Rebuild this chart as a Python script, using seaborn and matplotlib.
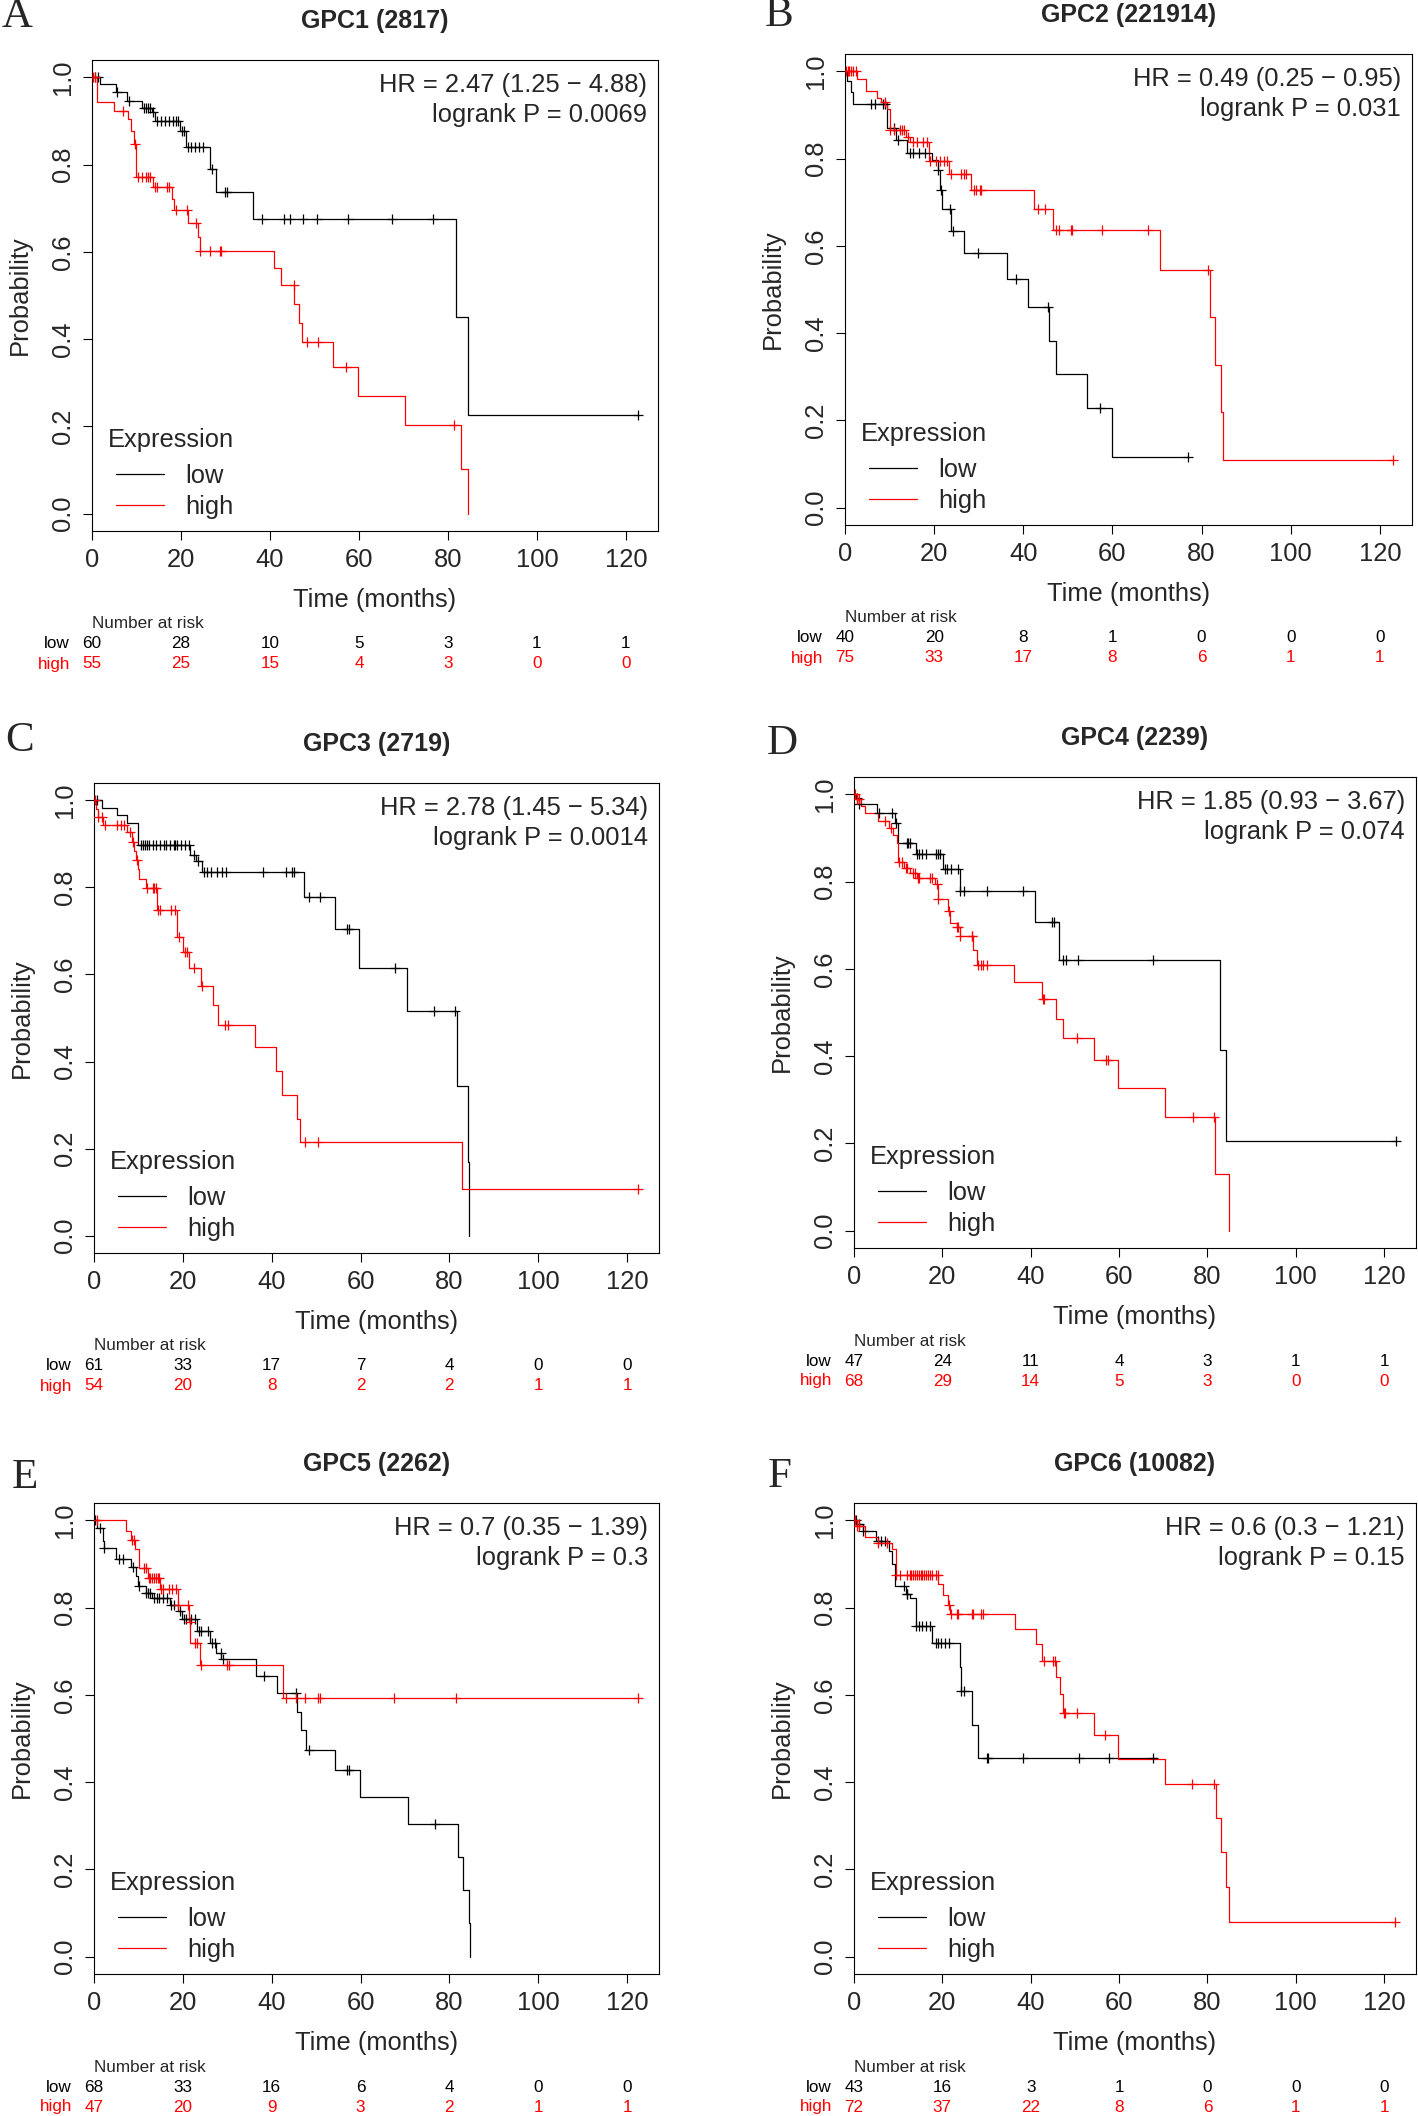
import numpy as np
import seaborn as sns
import matplotlib.pyplot as plt

sns.set_style("ticks")
plt.rcParams['font.family'] = ['Liberation Sans', 'DejaVu Sans']

#%% data (time in months, survival probability)
# A - GPC1
a_low_t = [0, 1.9, 5.3, 7.8, 11.3, 13.4, 14.2, 19.8, 21.1, 26.6, 27.9, 36.2, 81.9, 84.4, 122.6]
a_low_s = [1, 0.985, 0.966, 0.947, 0.931, 0.920, 0.901, 0.878, 0.840, 0.790, 0.737, 0.676, 0.450, 0.225, 0.225]
a_low_cens = [0.6, 1.4, 5.7, 8.3, 11.7, 12.1, 12.5, 13.0, 13.6, 14.7, 15.5, 16.4, 17.2, 18.1, 18.9, 19.4,
              20.2, 20.6, 21.5, 22.3, 23.2, 24.1, 24.9, 27.0, 30.0, 30.4, 38.1, 43.2, 44.5, 47.5, 50.5,
              57.6, 67.5, 76.7, 122.6]
a_high_t = [0, 1.2, 5.0, 8.1, 8.7, 9.4, 10.0, 13.8, 17.9, 18.5, 21.5, 23.9, 24.2, 40.9, 42.4, 45.5,
            46.5, 47.3, 54.1, 59.7, 70.4, 82.9, 84.6]
a_high_s = [1, 0.943, 0.924, 0.905, 0.878, 0.847, 0.771, 0.748, 0.721, 0.695, 0.666, 0.634, 0.603,
            0.563, 0.524, 0.481, 0.437, 0.393, 0.336, 0.269, 0.202, 0.102, 0.0]
a_high_cens = [0.2, 0.6, 7.0, 9.6, 10.4, 11.3, 12.1, 12.5, 13.0, 14.2, 14.7, 16.8, 17.2, 18.8, 21.3,
               23.4, 24.2, 26.6, 28.7, 29.0, 45.3, 48.4, 50.9, 57.1, 81.4]
a_risk_low = [60, 28, 10, 5, 3, 1, 1]
a_risk_high = [55, 25, 15, 4, 3, 0, 0]

# B - GPC2
b_low_t = [0, 0.4, 1.3, 1.7, 9.4, 11.5, 14.0, 19.6, 20.8, 21.3, 21.7, 23.8, 26.8, 36.3, 41.0, 45.7,
           47.4, 54.2, 59.8, 77.0]
b_low_s = [1, 0.977, 0.954, 0.926, 0.870, 0.843, 0.813, 0.797, 0.774, 0.729, 0.684, 0.635, 0.583,
           0.524, 0.459, 0.382, 0.306, 0.229, 0.115, 0.115]
b_low_cens = [5.8, 6.8, 8.5, 8.9, 11.1, 11.9, 14.5, 15.3, 16.6, 17.9, 20.9, 21.5, 23.6, 24.2, 29.9,
              38.3, 45.5, 57.1, 77.0]
b_high_t = [0, 2.6, 4.8, 7.2, 8.1, 9.4, 10.0, 13.6, 14.5, 18.9, 23.4, 28.3, 42.5, 46.6, 70.6, 81.9,
            83.1, 84.4, 84.9, 122.9]
b_high_s = [1, 0.982, 0.956, 0.939, 0.929, 0.914, 0.866, 0.850, 0.839, 0.794, 0.765, 0.729, 0.684,
            0.637, 0.545, 0.438, 0.327, 0.220, 0.108, 0.108]
b_high_cens = [0.2, 0.6, 1.0, 1.4, 1.9, 2.4, 8.9, 10.2, 11.1, 12.3, 12.8, 13.2, 14.1, 15.3, 16.2, 17.4,
               18.3, 19.1, 20.4, 21.3, 22.1, 22.9, 23.8, 26.0, 26.8, 27.2, 28.9, 29.5, 30.2, 30.6, 43.2,
               44.8, 47.4, 48.0, 50.6, 51.0, 57.7, 67.9, 81.5, 122.9]
b_risk_low = [40, 20, 8, 1, 0, 0, 0]
b_risk_high = [75, 33, 17, 8, 6, 1, 1]

# C - GPC3
c_low_t = [0, 1.9, 5.1, 7.4, 10.0, 21.7, 23.0, 24.3, 47.3, 54.2, 59.6, 70.4, 81.7, 84.3, 84.5]
c_low_s = [1, 0.982, 0.967, 0.949, 0.897, 0.874, 0.860, 0.836, 0.777, 0.704, 0.616, 0.515, 0.343, 0.170, 0.0]
c_low_cens = [0.7, 10.6, 11.1, 11.5, 11.9, 12.3, 13.2, 14.0, 14.9, 15.7, 16.2, 17.0, 17.9, 18.3, 18.7,
              19.6, 20.4, 21.3, 22.6, 23.4, 24.7, 25.5, 26.4, 27.7, 28.9, 29.8, 38.1, 43.2, 44.5, 45.0,
              48.3, 50.8, 57.0, 57.4, 67.7, 76.6, 81.3]
c_high_t = [0, 0.4, 0.9, 2.1, 7.5, 8.5, 8.9, 9.4, 9.8, 10.1, 11.7, 14.2, 18.7, 20.0, 21.3, 24.0, 26.8,
            27.9, 36.2, 41.0, 42.4, 45.8, 46.4, 82.8, 122.4]
c_high_s = [1, 0.981, 0.962, 0.943, 0.927, 0.904, 0.884, 0.862, 0.843, 0.820, 0.799, 0.748, 0.687,
            0.651, 0.616, 0.574, 0.530, 0.485, 0.433, 0.378, 0.324, 0.269, 0.216, 0.108, 0.108]
c_high_cens = [0.3, 1.0, 1.7, 2.4, 5.1, 6.0, 6.8, 8.1, 8.8, 9.6, 11.9, 13.2, 13.6, 14.0, 14.5, 14.9,
               17.4, 18.3, 19.1, 20.4, 21.0, 22.6, 24.3, 29.5, 30.2, 47.4, 50.4, 122.4]
c_risk_low = [61, 33, 17, 7, 4, 0, 0]
c_risk_high = [54, 20, 8, 2, 2, 1, 1]

# D - GPC4
d_low_t = [0, 0.4, 1.1, 5.2, 9.2, 10.0, 14.0, 20.2, 23.9, 41.0, 46.5, 82.9, 84.3, 122.6]
d_low_s = [1, 0.992, 0.979, 0.957, 0.935, 0.889, 0.863, 0.828, 0.779, 0.708, 0.620, 0.414, 0.206, 0.206]
d_low_cens = [0.7, 1.1, 5.6, 8.6, 9.4, 12.0, 12.3, 12.6, 14.3, 14.7, 15.5, 16.4, 18.5, 18.9, 19.4, 20.5,
              21.1, 22.0, 23.6, 24.0, 24.9, 30.0, 38.3, 44.8, 45.3, 47.4, 48.0, 50.8, 67.6, 122.6]
d_high_t = [0, 0.7, 1.5, 2.4, 5.4, 7.9, 8.9, 9.8, 10.0, 11.3, 12.6, 14.3, 18.3, 18.9, 21.3, 21.7, 23.2,
            24.0, 26.9, 27.9, 36.3, 42.5, 45.7, 47.4, 54.4, 59.7, 70.5, 81.8, 84.8]
d_high_s = [1, 0.989, 0.973, 0.957, 0.939, 0.924, 0.906, 0.889, 0.845, 0.832, 0.821, 0.809, 0.794,
            0.760, 0.733, 0.706, 0.695, 0.676, 0.644, 0.610, 0.570, 0.531, 0.485, 0.441, 0.392,
            0.326, 0.261, 0.130, 0.0]
d_high_cens = [0.3, 0.7, 1.1, 7.0, 8.3, 10.1, 10.9, 11.7, 12.1, 13.4, 13.8, 14.4, 14.7, 17.1, 17.7,
               18.8, 19.1, 21.5, 23.2, 23.6, 24.1, 26.6, 26.8, 28.1, 28.7, 29.1, 30.0, 42.7, 43.1,
               50.4, 57.1, 57.6, 76.7, 81.5]
d_risk_low = [47, 24, 11, 4, 3, 1, 1]
d_risk_high = [68, 29, 14, 5, 3, 0, 0]

# E - GPC5
e_low_t = [0, 0.6, 2.0, 2.3, 5.0, 8.3, 9.5, 10.0, 11.7, 13.0, 17.2, 18.9, 19.8, 23.2, 26.2, 27.5, 28.7,
           36.4, 41.3, 45.8, 46.6, 47.7, 54.2, 59.8, 70.6, 82.0, 83.0, 84.4, 84.6]
e_low_s = [1, 0.983, 0.953, 0.937, 0.911, 0.894, 0.873, 0.850, 0.834, 0.823, 0.805, 0.792, 0.773,
           0.747, 0.720, 0.697, 0.682, 0.644, 0.604, 0.560, 0.519, 0.474, 0.427, 0.366, 0.305,
           0.229, 0.153, 0.076, 0.0]
e_low_cens = [0.3, 1.4, 2.3, 5.7, 6.6, 8.7, 10.1, 11.7, 12.1, 12.5, 13.4, 14.2, 14.7, 15.5, 16.4, 17.4,
              18.1, 19.4, 20.2, 20.6, 21.9, 22.8, 23.6, 24.0, 25.7, 26.6, 27.3, 28.5, 29.0, 38.3, 45.4,
              48.3, 57.0, 57.5, 76.7]
e_high_t = [0, 7.2, 8.3, 9.3, 10.1, 12.1, 14.8, 18.8, 21.5, 21.7, 23.9, 42.6, 122.5]
e_high_s = [1, 0.976, 0.956, 0.935, 0.892, 0.867, 0.842, 0.805, 0.766, 0.720, 0.669, 0.594, 0.594]
e_high_cens = [0.6, 8.5, 8.9, 11.3, 11.7, 12.3, 12.7, 13.1, 13.5, 13.9, 14.3, 14.6, 15.1, 15.5, 16.8,
               17.6, 18.5, 19.0, 21.1, 21.6, 22.8, 23.2, 24.0, 30.0, 30.4, 43.2, 45.4, 47.5, 50.5,
               50.9, 67.5, 81.4, 122.5]
e_risk_low = [68, 33, 16, 6, 4, 0, 0]
e_risk_high = [47, 20, 9, 3, 2, 1, 1]

# F - GPC6
f_low_t = [0, 0.7, 2.0, 4.9, 7.9, 8.7, 9.2, 11.7, 12.6, 14.0, 17.7, 23.9, 24.2, 26.8, 28.0, 68.6]
f_low_s = [1, 0.991, 0.976, 0.953, 0.930, 0.899, 0.850, 0.831, 0.823, 0.758, 0.718, 0.663, 0.608,
           0.531, 0.456, 0.456]
f_low_cens = [0.4, 1.1, 2.0, 5.4, 6.2, 7.0, 11.3, 11.9, 12.1, 14.1, 14.7, 15.5, 16.4, 17.2, 18.5, 18.9,
              19.7, 20.6, 21.5, 24.3, 24.9, 30.0, 30.4, 38.2, 50.9, 57.7, 67.6]
f_high_t = [0, 0.7, 2.4, 5.4, 8.6, 9.4, 19.1, 20.2, 21.3, 21.7, 36.5, 41.2, 42.5, 45.7, 46.7, 47.4,
            54.4, 59.7, 70.5, 82.0, 83.1, 84.3, 84.8, 122.5]
f_high_s = [1, 0.987, 0.963, 0.949, 0.934, 0.875, 0.855, 0.830, 0.806, 0.785, 0.750, 0.716, 0.678,
            0.640, 0.601, 0.559, 0.509, 0.453, 0.396, 0.317, 0.239, 0.160, 0.079, 0.079]
f_high_cens = [0.3, 0.7, 1.1, 5.4, 7.5, 9.6, 10.4, 12.1, 12.6, 13.0, 13.4, 13.8, 14.3, 14.7, 15.1, 15.5,
               15.9, 16.4, 16.8, 17.2, 17.7, 18.5, 18.9, 21.5, 21.9, 23.2, 23.6, 26.6, 27.0, 28.7, 29.1,
               43.1, 45.0, 45.5, 47.6, 47.8, 50.4, 56.9, 76.5, 81.5, 122.5]
f_risk_low = [43, 16, 3, 1, 0, 0, 0]
f_risk_high = [72, 37, 22, 8, 6, 1, 1]

titles = ["GPC1 (2817)", "GPC2 (221914)", "GPC3 (2719)", "GPC4 (2239)", "GPC5 (2262)", "GPC6 (10082)"]
letters = ["A", "B", "C", "D", "E", "F"]
hr_text = ["HR = 2.47 (1.25 \u2212 4.88)", "HR = 0.49 (0.25 \u2212 0.95)", "HR = 2.78 (1.45 \u2212 5.34)",
           "HR = 1.85 (0.93 \u2212 3.67)", "HR = 0.7 (0.35 \u2212 1.39)", "HR = 0.6 (0.3 \u2212 1.21)"]
p_text = ["logrank P = 0.0069", "logrank P = 0.031", "logrank P = 0.0014",
          "logrank P = 0.074", "logrank P = 0.3", "logrank P = 0.15"]
risk_times = [0, 20, 40, 60, 80, 100, 120]

curves = [
    (a_low_t, a_low_s, a_low_cens, a_high_t, a_high_s, a_high_cens, a_risk_low, a_risk_high),
    (b_low_t, b_low_s, b_low_cens, b_high_t, b_high_s, b_high_cens, b_risk_low, b_risk_high),
    (c_low_t, c_low_s, c_low_cens, c_high_t, c_high_s, c_high_cens, c_risk_low, c_risk_high),
    (d_low_t, d_low_s, d_low_cens, d_high_t, d_high_s, d_high_cens, d_risk_low, d_risk_high),
    (e_low_t, e_low_s, e_low_cens, e_high_t, e_high_s, e_high_cens, e_risk_low, e_risk_high),
    (f_low_t, f_low_s, f_low_cens, f_high_t, f_high_s, f_high_cens, f_risk_low, f_risk_high),
]

#%% layout (pixels): left, right, top, bottom of each plot box
W, H = 1418, 2116
boxes = [(92, 658, 60, 531), (845, 1412, 54, 525),
         (94, 659, 783, 1253), (854, 1416, 777, 1248),
         (94, 659, 1503, 1974), (854, 1416, 1503, 1974)]
letter_pos = [(17, 17), (779, 16), (20, 741), (782, 744), (25, 1478), (780, 1477)]
RED = "#FF0000"
FS = 18.4
FS_RISK = 12.3


def km_curve(ax, t, s, cens, color, label):
    sns.lineplot(x=t, y=s, drawstyle="steps-post", color=color, linewidth=0.9,
                 estimator=None, sort=False, label=label, legend=False, ax=ax)
    t = np.asarray(t)
    s = np.asarray(s)
    idx = np.searchsorted(t, cens, side="right") - 1
    sns.scatterplot(x=cens, y=s[idx], marker="+", s=42, color=color, linewidth=0.9,
                    legend=False, ax=ax, zorder=3)


fig = plt.figure(figsize=(W / 100, H / 100), dpi=100)

for i, (lt, ls, lc, ht, hs, hc, rl, rh) in enumerate(curves):
    left, right, top, bottom = boxes[i]
    w_px, h_px = right - left, bottom - top
    ax = fig.add_axes([left / W, 1 - bottom / H, w_px / W, h_px / H])

    km_curve(ax, lt, ls, lc, "black", "low")
    km_curve(ax, ht, hs, hc, RED, "high")

    ax.set_xlim(0, 127.2)
    ax.set_ylim(-0.04, 1.04)
    ax.set_xticks(risk_times)
    ax.set_yticks([0, 0.2, 0.4, 0.6, 0.8, 1.0])
    ax.set_yticklabels(["0.0", "0.2", "0.4", "0.6", "0.8", "1.0"])
    ax.tick_params(length=6.5, width=0.8, labelsize=FS, pad=5.5, color="black")
    ax.tick_params(axis="y", labelrotation=90)
    for lab in ax.get_yticklabels():
        lab.set_va("center")
    for sp in ax.spines.values():
        sp.set_visible(True)
        sp.set_linewidth(0.8)
        sp.set_color("black")
    ax.set_xlabel("")
    ax.set_ylabel("")

    # axis labels, title, panel letter
    ax.text(0.5, -69 / h_px, "Time (months)", transform=ax.transAxes,
            ha="center", va="center", fontsize=FS)
    ax.text(-72 / w_px, 0.5, "Probability", transform=ax.transAxes,
            ha="center", va="center", rotation=90, fontsize=FS)
    ax.text(0.5, 1 + 39 / h_px, titles[i], transform=ax.transAxes,
            ha="center", va="center", fontsize=18, fontweight="bold")
    lx, ly = letter_pos[i]
    fig.text(lx / W, 1 - ly / H, letters[i], ha="center", va="center",
             fontsize=31, family=["Liberation Serif", "DejaVu Serif"])

    # HR and logrank text
    ax.text(1 - 11 / w_px, 1 - 25 / h_px, hr_text[i], transform=ax.transAxes,
            ha="right", va="center", fontsize=FS)
    ax.text(1 - 11 / w_px, 1 - 55 / h_px, p_text[i], transform=ax.transAxes,
            ha="right", va="center", fontsize=FS)

    # legend
    ax.text(16 / w_px, 91 / h_px, "Expression", transform=ax.transAxes,
            ha="left", va="center", fontsize=FS)
    ax.legend(handles=ax.lines[:2], labels=["low", "high"], loc="lower left",
              bbox_to_anchor=(24 / w_px, 12 / h_px), frameon=False, fontsize=FS,
              borderaxespad=0, borderpad=0, labelspacing=0.28,
              handlelength=1.88, handletextpad=0.82)

    # number at risk table
    xt = ax.get_xaxis_transform()
    ax.text(0, -93 / h_px, "Number at risk", transform=xt, ha="left", va="center",
            fontsize=FS_RISK, clip_on=False)
    ax.text(-22 / w_px, -113 / h_px, "low", transform=ax.transAxes, ha="right",
            va="center", fontsize=FS_RISK, color="black")
    ax.text(-22 / w_px, -133 / h_px, "high", transform=ax.transAxes, ha="right",
            va="center", fontsize=FS_RISK, color=RED)
    for tt, nl, nh in zip(risk_times, rl, rh):
        ax.text(tt, -113 / h_px, str(nl), transform=xt, ha="center", va="center",
                fontsize=FS_RISK, color="black")
        ax.text(tt, -133 / h_px, str(nh), transform=xt, ha="center", va="center",
                fontsize=FS_RISK, color=RED)

fig.savefig("out.png", dpi=100, facecolor="white")
